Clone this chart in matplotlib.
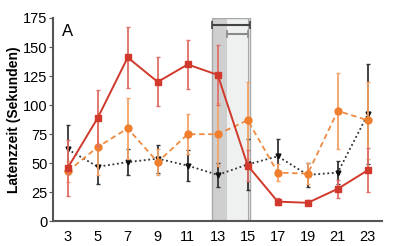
import matplotlib
matplotlib.use("Agg")
import matplotlib.pyplot as plt

plt.rcParams["font.family"] = ["Liberation Sans", "DejaVu Sans"]

# Days of observation
days = [3, 5, 7, 9, 11, 13, 15, 17, 19, 21, 23]

# Red series (solid, squares)
red_mean = [46, 89, 141, 120, 135, 126, 48, 17, 16, 28, 44]
red_err = [24, 24, 26, 21, 21, 26, 13, 3, 2, 8, 19]

# Orange series (dashed, circles)
orange_mean = [43, 64, 80, 51, 75, 75, 87, 42, 41, 95, 87]
orange_err = [9, 24, 26, 11, 17, 27, 33, 7, 9, 33, 33]

# Black series (dotted, triangles)
black_mean = [62, 47, 51, 54, 48, 40, 49, 56, 40, 42, 92]
black_err = [21, 15, 11, 12, 13, 10, 22, 15, 10, 10, 43]

xticks = [3, 5, 7, 9, 11, 13, 15, 17, 19, 21, 23]
yticks = [0, 25, 50, 75, 100, 125, 150, 175]

fig = plt.figure(figsize=(4.0, 2.46), dpi=100)
ax = fig.add_axes([0.1325, 0.1, 0.8225, 0.827])

# Shaded periods
ax.axvspan(12.6, 13.6, color="#cfcfcf", zorder=0, lw=0)
ax.axvspan(13.6, 15.15, color="#eef1f0", zorder=0, lw=0)
ax.axvspan(12.6, 15.15, facecolor="none", edgecolor="#a8a8a8", lw=1.0, zorder=0.5)
ax.axvline(15.0, color="#a8a8a8", lw=0.8, zorder=0.5)

# Brackets on top
ax.errorbar([13.875], [169], xerr=[[1.275], [1.275]], fmt="none",
            ecolor="#444444", elinewidth=1.5, capsize=3, capthick=1.2, zorder=3)
ax.errorbar([14.325], [161], xerr=[[0.675], [0.675]], fmt="none",
            ecolor="#8a8a8a", elinewidth=1.5, capsize=3, capthick=1.2, zorder=3)

# Black dotted
ax.errorbar(days, black_mean, yerr=black_err, fmt="v", color="#111111",
            ms=3.5, ecolor="#333333", elinewidth=1.3, capsize=1.5, capthick=1, zorder=2)
ax.plot(days, black_mean, ls=(0, (1, 1.5)), color="#333333", lw=1.3, zorder=2)

# Orange dashed
ax.errorbar(days, orange_mean, yerr=orange_err, fmt="o", color="#ef7f2e",
            ms=5, ecolor="#f4a36a", elinewidth=1.3, capsize=1.5, capthick=1, zorder=3)
ax.plot(days, orange_mean, ls=(0, (3, 2)), color="#ef8a40", lw=1.3, zorder=3)

# Red solid
ax.errorbar(days, red_mean, yerr=red_err, fmt="s", color="#d0392b",
            ms=5, ecolor="#df6f68", elinewidth=1.3, capsize=1.5, capthick=1, zorder=4)
ax.plot(days, red_mean, ls="-", color="#d0392b", lw=1.4, zorder=4)

ax.set_xlim(2.02, 23.95)
ax.set_ylim(0, 175)
ax.set_xticks(xticks)
ax.set_yticks(yticks)

ax.spines["top"].set_visible(False)
ax.spines["right"].set_visible(False)
for s in ["left", "bottom"]:
    ax.spines[s].set_color("#555555")
    ax.spines[s].set_linewidth(1.5)
ax.tick_params(axis="y", length=3, width=0.8, color="#555555", labelsize=10.5, pad=1)
ax.tick_params(axis="x", length=0, labelsize=10.5, pad=6)

ax.set_ylabel("Latenzzeit (Sekunden)", fontsize=10, fontweight="bold", labelpad=1)
ax.text(2.6, 163, "A", fontsize=12, va="center", ha="left")

plt.savefig("out.png", dpi=100)
